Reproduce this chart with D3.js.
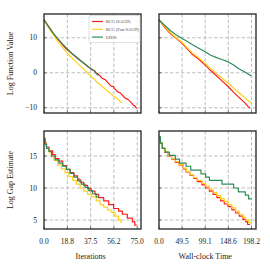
<!DOCTYPE html>
<html>
<head>
<meta charset="utf-8">
<script src="https://cdn.jsdelivr.net/npm/d3@7"></script>
<style>
  body { margin: 0; background: white; }
  svg { display: block; font-family: "Liberation Serif", "DejaVu Serif", serif; }
</style>
</head>
<body>
<script>
// series names + colours
const seriesNames = ["BCG (SAGD)", "BCG (Fast SAGD)", "LPOS"];
const seriesColors = ["#ff1a1a", "#ffd21a", "#2e8b57"];

// tick labels
const iterTicks = [0.0, 18.8, 37.5, 56.2, 75.0];
const timeTicks = [0.0, 49.5, 99.1, 148.6, 198.2];
const fvTicks = [10, 0, -10];
const gapTicks = [15, 10, 5];

// top-left: log function value vs iterations
const fvIterRed = [[0,15.2],[3,13.6],[6,12.1],[9,10.4],[12,9.3],[15,8.0],[18,6.8],[21,5.9],[24,5.0],[27,4.1],[30,3.3],[33,2.4],[36,1.6],[39,0.8],[40.5,0.7],[42,-0.1],[43.5,-0.3],[45,-0.9],[46.5,-1.5],[48,-1.8],[49.5,-2.0],[51,-2.7],[52.5,-3.3],[54,-3.8],[55.5,-3.9],[57,-4.6],[58.5,-5.2],[60,-5.6],[61.5,-5.8],[63,-6.4],[64.5,-7.0],[66,-7.4],[67.5,-7.6],[69,-8.1],[70.5,-8.7],[72,-9.3],[73.5,-9.6],[74.5,-10.2]];
const fvIterYellow = [[0,15.2],[3,13.4],[6,11.6],[9,10.0],[12,8.6],[15,7.2],[18,5.9],[21,4.8],[24,3.7],[27,2.7],[30,1.6],[31.5,1.3],[33,0.6],[34.5,0.1],[36,-0.5],[37.5,-0.8],[39,-1.5],[40.5,-1.8],[42,-2.5],[43.5,-2.9],[45,-3.3],[46.5,-3.9],[48,-4.3],[49.5,-4.7],[51,-5.3],[52.5,-5.6],[54,-6.1],[55.5,-6.6],[57,-7.0],[58.5,-7.3],[60,-7.8],[61.5,-8.3],[62.6,-8.7]];
const fvIterGreen = [[0,15.1],[3,13.5],[6,12.0],[9,10.6],[12,9.4],[15,8.2],[18,7.1],[21,6.0],[24,5.1],[27,4.2],[30,3.3],[33,2.5],[36,1.6],[37.5,1.3],[39,0.9],[40.5,0.5],[42,-0.2],[43.7,-0.8]];

// top-right: log function value vs wall-clock time
const fvTimeRed = [[0,15.2],[12,13.0],[24,11.2],[36,9.9],[49.5,8.4],[60,6.9],[72,5.2],[84,4.0],[99.1,2.2],[110,0.7],[122,-0.7],[135,-2.3],[148.6,-4.0],[160,-5.6],[172,-7.1],[184,-8.6],[195,-10.2]];
const fvTimeYellow = [[0,15.2],[12,13.2],[24,11.5],[36,10.1],[49.5,8.7],[60,7.2],[72,5.6],[84,4.4],[99.1,2.7],[110,1.3],[122,-0.1],[135,-1.5],[148.6,-3.0],[160,-4.4],[172,-5.8],[184,-7.2],[198,-8.7]];
const fvTimeGreen = [[0,15.1],[12,13.6],[24,12.1],[36,10.9],[49.5,9.8],[60,9.0],[72,8.0],[84,7.1],[99.1,6.0],[110,5.1],[122,4.4],[135,3.8],[148.6,3.1],[160,2.2],[172,1.1],[184,0.2],[198,-0.9]];

// bottom-left: log gap estimate vs iterations (steps)
const gapIterRed = [[0,17.8],[1,17.0],[2,16.4],[4,15.8],[7,15.2],[9,14.6],[12,14.2],[15,13.5],[18,12.9],[21,12.4],[24,11.9],[27,11.4],[29,10.9],[32,10.4],[35,9.9],[38,9.5],[41,9.0],[44,8.5],[48,8.0],[52,7.4],[56,6.8],[60,6.4],[63,5.9],[67,5.3],[71,4.7],[73,4.2],[74.5,4.2]];
const gapIterYellow = [[0,17.8],[1,16.9],[2,16.2],[4,15.6],[6,14.9],[8,14.3],[11,13.6],[14,13.0],[17,12.4],[20,11.8],[23,11.2],[26,10.6],[29,10.0],[32,9.5],[35,9.0],[38,8.6],[42,8.0],[45,7.4],[48,7.0],[51,6.6],[54,6.2],[57,5.6],[60,5.0],[62,4.6],[62.6,4.6]];
const gapIterGreen = [[0,17.6],[1,16.8],[2,16.2],[4,15.7],[6,15.0],[9,14.4],[12,13.9],[15,13.4],[18,12.9],[21,12.3],[24,11.7],[27,11.1],[30,10.6],[33,10.1],[36,9.6],[39,9.1],[42,8.6],[43.7,8.5]];

// bottom-right: log gap estimate vs wall-clock time (steps)
const gapTimeRed = [[0,18.0],[3,17.0],[7,16.2],[12,15.6],[19,15.0],[27,14.5],[35,14.0],[43,13.6],[52,13.0],[58,12.5],[66,12.0],[74,11.5],[82,11.0],[92,10.5],[100,10.0],[108,9.5],[116,9.0],[124,8.5],[132,8.0],[140,7.5],[148,7.1],[156,6.6],[164,6.1],[172,5.6],[180,5.1],[186,4.7],[190,4.3],[195,4.3]];
const gapTimeYellow = [[0,18.0],[3,17.0],[7,16.3],[12,15.7],[19,15.1],[27,14.6],[35,14.1],[43,13.7],[52,13.1],[58,12.6],[66,12.1],[74,11.6],[82,11.2],[92,10.7],[100,10.3],[108,9.8],[116,9.3],[124,8.8],[132,8.3],[140,7.9],[148,7.4],[156,6.9],[164,6.4],[172,5.9],[180,5.4],[186,5.0],[192,4.6],[198,4.4]];
const gapTimeGreen = [[0,18.0],[3,17.0],[7,16.2],[13,15.6],[22,15.1],[35,14.5],[44,13.9],[58,13.4],[68,12.8],[90,12.2],[100,11.7],[108,11.2],[135,10.6],[160,10.0],[170,9.4],[185,8.9],[192,8.3],[198,8.3]];

const W = 270, H = 270;
const svg = d3.select("body").append("svg")
	.attr("width", W).attr("height", H);

const cols = [[44, 141], [159, 256]];
const rows = [[14, 113], [131, 229]];

const panels = [
	{col: 0, row: 0, xDom: [0, 78], yDom: [-11.5, 16.8], xT: iterTicks, yT: fvTicks, series: [fvIterRed, fvIterYellow, fvIterGreen], step: false, ylab: "Log Function Value", legend: true},
	{col: 1, row: 0, xDom: [0, 207.9], yDom: [-11.5, 16.8], xT: timeTicks, yT: fvTicks, series: [fvTimeRed, fvTimeYellow, fvTimeGreen], step: false},
	{col: 0, row: 1, xDom: [0, 78], yDom: [3.6, 18.9], xT: iterTicks, yT: gapTicks, series: [gapIterRed, gapIterYellow, gapIterGreen], step: true, ylab: "Log Gap Estimate", xlab: "Iterations"},
	{col: 1, row: 1, xDom: [0, 207.9], yDom: [3.6, 18.9], xT: timeTicks, yT: gapTicks, series: [gapTimeRed, gapTimeYellow, gapTimeGreen], step: true, xlab: "Wall-clock Time"}
];

panels.forEach(p => {
	const [x0, x1] = cols[p.col];
	const [y0, y1] = rows[p.row];
	const x = d3.scaleLinear().domain(p.xDom).range([x0, x1]);
	const y = d3.scaleLinear().domain(p.yDom).range([y1, y0]);
	const g = svg.append("g");

	// grid
	g.append("g").selectAll("line").data(p.xT.slice(1)).join("line")
		.attr("x1", d => x(d)).attr("x2", d => x(d))
		.attr("y1", y0).attr("y2", y1);
	g.append("g").selectAll("line").data(p.yT).join("line")
		.attr("x1", x0).attr("x2", x1)
		.attr("y1", d => y(d)).attr("y2", d => y(d));
	g.selectAll("g line")
		.attr("stroke", "#b8b8b8")
		.attr("stroke-width", 0.9)
		.attr("stroke-dasharray", "3.5,2");

	// lines
	const line = d3.line()
		.x(d => x(d[0]))
		.y(d => y(d[1]))
		.curve(p.step ? d3.curveStepAfter : d3.curveLinear);
	g.append("g").selectAll("path").data(p.series).join("path")
		.attr("fill", "none")
		.attr("stroke", (d, i) => seriesColors[i])
		.attr("stroke-width", 1.2)
		.attr("stroke-linejoin", "round")
		.attr("d", line);

	// ticks (inward)
	const tk = g.append("g").attr("stroke", "#222").attr("stroke-width", 0.6);
	p.xT.forEach(t => {
		tk.append("line").attr("x1", x(t)).attr("x2", x(t)).attr("y1", y1).attr("y2", y1 - 2.5);
	});
	p.yT.forEach(t => {
		tk.append("line").attr("x1", x0).attr("x2", x0 + 2.5).attr("y1", y(t)).attr("y2", y(t));
	});

	// frame
	g.append("rect")
		.attr("x", x0).attr("y", y0)
		.attr("width", x1 - x0).attr("height", y1 - y0)
		.attr("fill", "none")
		.attr("stroke", "#222")
		.attr("stroke-width", 1.3);

	if (p.col === 0) {
		g.append("g").selectAll("text").data(p.yT).join("text")
			.attr("x", x0 - 7)
			.attr("y", d => y(d))
			.attr("dy", "0.35em")
			.attr("text-anchor", "end")
			.attr("font-size", 7.5)
			.attr("fill", "#222")
			.text(d => d === -10 ? "\u221210" : d);
		g.append("text")
			.attr("transform", `translate(13,${(y0 + y1) / 2}) rotate(-90)`)
			.attr("text-anchor", "middle")
			.attr("font-size", 8)
			.attr("fill", "#222")
			.text(p.ylab);
	}
	if (p.row === 1) {
		g.append("g").selectAll("text").data(p.xT).join("text")
			.attr("x", d => x(d))
			.attr("y", 244)
			.attr("text-anchor", "middle")
			.attr("font-size", 7.5)
			.attr("fill", "#222")
			.text(d => d.toFixed(1));
		g.append("text")
			.attr("x", (x(p.xT[0]) + x(p.xT[p.xT.length - 1])) / 2)
			.attr("y", 259)
			.attr("text-anchor", "middle")
			.attr("font-size", 8)
			.attr("fill", "#222")
			.text(p.xlab);
	}

	if (p.legend) {
		const lg = g.append("g").attr("transform", `translate(${x1 - 52},${y0 + 1.5})`);
		lg.append("rect")
			.attr("width", 51).attr("height", 27)
			.attr("rx", 1.5)
			.attr("fill", "white")
			.attr("fill-opacity", 0.85)
			.attr("stroke", "#ccc")
			.attr("stroke-width", 0.6);
		seriesNames.forEach((n, i) => {
			lg.append("line")
				.attr("x1", 3).attr("x2", 14)
				.attr("y1", 6 + i * 7.8).attr("y2", 6 + i * 7.8)
				.attr("stroke", seriesColors[i])
				.attr("stroke-width", 1.2);
			lg.append("text")
				.attr("x", 17).attr("y", 6 + i * 7.8)
				.attr("dy", "0.35em")
				.attr("font-size", 4.3)
				.attr("fill", "#444")
				.text(n);
		});
	}
});
</script>
</body>
</html>
